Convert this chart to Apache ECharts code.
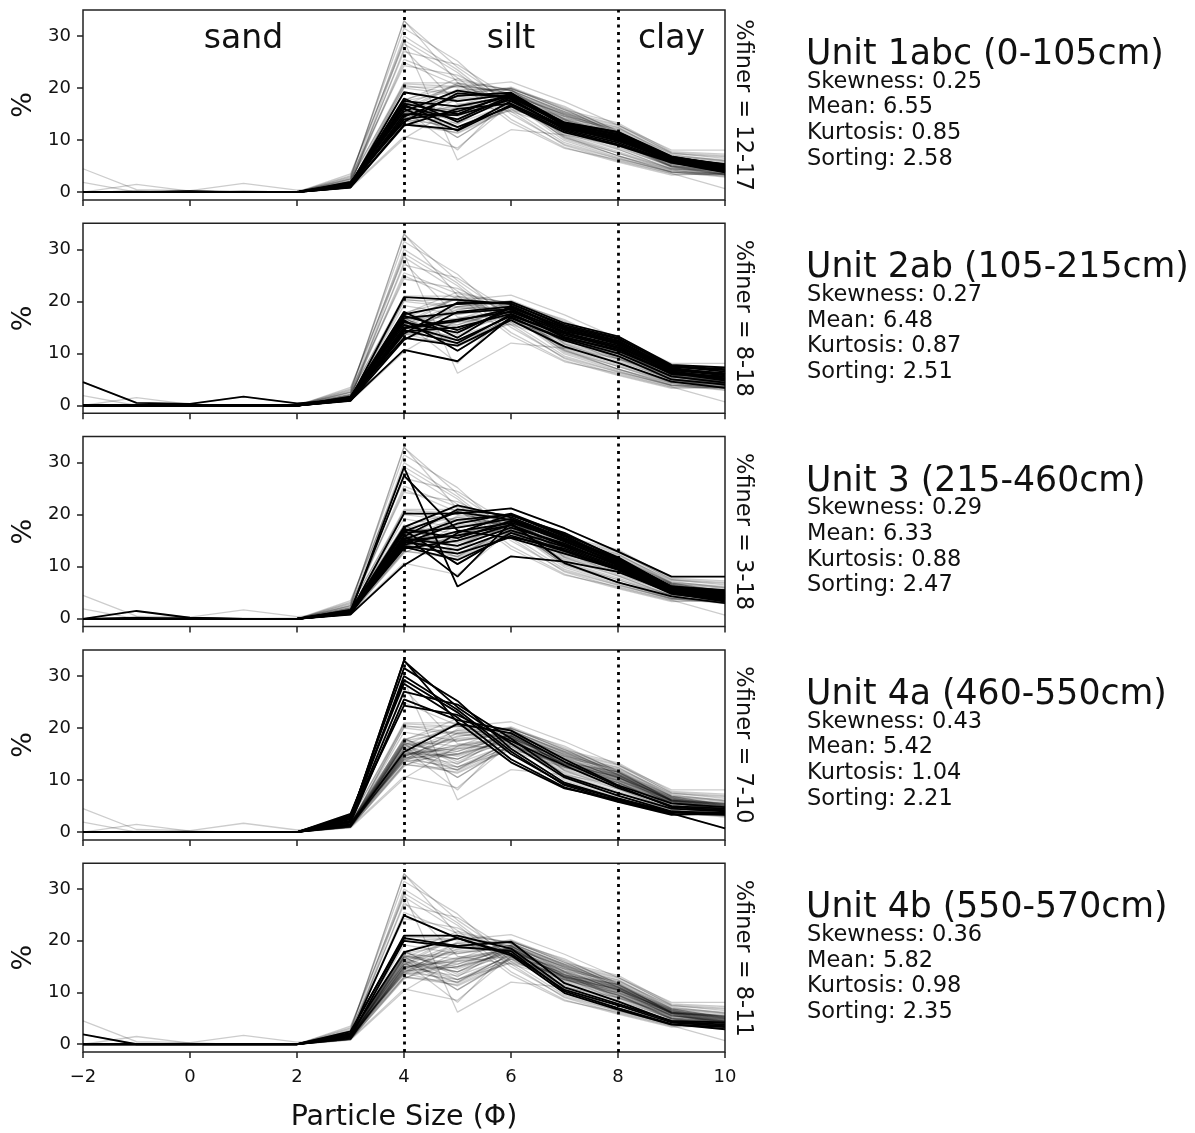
<!DOCTYPE html>
<html>
<head>
<meta charset="utf-8">
<script src="https://cdn.jsdelivr.net/npm/echarts@6/dist/echarts.min.js"></script>
<style>
  html, body { margin: 0; padding: 0; background: #fff; }
  #main { width: 1195px; height: 1133px; }
</style>
</head>
<body>
<div id="main"></div>
<script>
var phi = [-2, -1, 0, 1, 2, 3, 4, 5, 6, 7, 8, 9, 10];

// percent retained per phi class, one row per sample
var unit1 = [
  [0, 0, 0, 0, 0, 1.2, 16.5, 14.0, 18.5, 13.0, 10.5, 6.3, 4.5],
  [0, 0, 0.1, 0, 0, 1.5, 19.2, 17.5, 18.8, 12.8, 10.2, 6.0, 4.2],
  [0, 0, 0, 0.1, 0, 1.0, 13.0, 12.0, 17.5, 12.5, 10.8, 6.5, 5.0],
  [0, 0, 0, 0, 0, 1.8, 15.5, 19.5, 18.0, 12.0, 9.5, 5.9, 4.0],
  [0, 0, 0.2, 0, 0, 1.3, 17.0, 15.0, 19.0, 13.3, 11.5, 6.8, 5.3],
  [0, 0, 0, 0, 0, 0.9, 12.8, 16.0, 17.0, 12.2, 10.0, 6.1, 4.4],
  [0, 0, 0, 0, 0, 1.6, 18.0, 13.5, 18.2, 13.0, 11.0, 6.6, 4.8],
  [0, 0, 0, 0, 0.1, 1.1, 14.5, 18.5, 19.1, 12.6, 9.8, 6.2, 4.3],
  [0, 0.1, 0, 0, 0, 1.4, 16.0, 11.8, 16.8, 11.8, 9.2, 5.8, 3.9],
  [0, 0, 0, 0, 0, 1.7, 17.5, 16.5, 18.5, 13.4, 11.6, 6.9, 5.1],
  [0, 0, 0, 0, 0, 1.2, 15.0, 14.8, 17.8, 12.4, 10.4, 6.4, 4.6],
  [0, 0, 0, 0, 0, 2.0, 13.5, 19.0, 18.3, 12.9, 10.6, 6.0, 4.1],
  [0, 0, 0, 0, 0, 1.0, 16.8, 12.5, 16.5, 11.5, 9.0, 5.7, 3.8],
  [0, 0, 0, 0, 0, 1.5, 14.0, 15.5, 18.6, 13.1, 11.2, 6.7, 5.4]
];
var unit2 = [
  [4.5, 0.5, 0.3, 1.7, 0.4, 1.2, 14.5, 12.0, 17.5, 13.5, 11.0, 6.0, 5.5],
  [0, 0, 0, 0, 0, 1.3, 20.8, 20.3, 19.5, 15.5, 13.0, 7.5, 6.5],
  [0, 0, 0, 0, 0, 1.0, 10.7, 8.5, 17.0, 12.5, 9.5, 5.0, 4.0],
  [0, 0, 0, 0, 0, 1.5, 16.0, 14.0, 18.8, 15.0, 12.5, 7.2, 6.0],
  [0, 0, 0.1, 0, 0, 1.2, 17.5, 19.5, 19.9, 15.8, 13.3, 7.8, 7.3],
  [0, 0, 0, 0, 0, 1.4, 13.0, 11.5, 16.4, 11.3, 8.2, 4.6, 3.4],
  [0, 0, 0, 0, 0.1, 1.1, 15.0, 16.5, 18.0, 14.0, 11.5, 6.5, 5.0],
  [0, 0, 0, 0, 0, 1.6, 18.0, 13.0, 19.2, 14.8, 12.0, 7.0, 6.2],
  [0, 0, 0, 0, 0, 0.9, 12.6, 18.0, 19.0, 14.5, 11.8, 6.8, 5.8],
  [0, 0.1, 0, 0, 0, 1.3, 14.2, 15.0, 17.6, 13.2, 10.5, 6.2, 4.8],
  [0, 0, 0, 0, 0, 1.2, 16.8, 17.8, 18.5, 14.2, 12.2, 7.4, 6.8],
  [0, 0, 0, 0, 0, 1.5, 15.5, 12.5, 17.2, 13.8, 11.2, 6.6, 5.2],
  [0, 0, 0, 0, 0, 1.0, 13.8, 19.8, 19.6, 15.2, 12.8, 7.6, 7.0],
  [0, 0, 0, 0, 0, 1.7, 17.2, 14.5, 18.2, 14.6, 12.4, 6.9, 6.0],
  [0, 0, 0, 0, 0, 1.1, 14.8, 16.2, 18.6, 13.0, 10.8, 6.3, 5.6],
  [0, 0, 0, 0, 0, 1.4, 16.4, 10.5, 16.8, 12.8, 10.0, 5.6, 4.4]
];
var unit3 = [
  [0, 1.5, 0.2, 0, 0, 1.0, 15.0, 16.0, 18.0, 14.0, 10.5, 5.5, 4.5],
  [0, 0, 0, 0, 0, 1.2, 29.1, 6.2, 12.0, 11.0, 9.0, 5.0, 3.5],
  [0, 0, 0, 0, 0, 1.5, 27.5, 17.0, 15.5, 12.5, 9.5, 5.2, 4.0],
  [0, 0, 0, 0, 0, 1.3, 20.2, 20.2, 21.2, 17.4, 12.9, 8.1, 8.1],
  [0, 0, 0, 0, 0, 0.8, 10.3, 16.5, 20.0, 16.0, 11.0, 6.0, 5.0],
  [0, 0, 0, 0, 0, 1.1, 16.0, 8.1, 18.5, 15.0, 10.8, 5.8, 4.6],
  [0, 0, 0, 0, 0, 1.4, 17.6, 21.8, 19.5, 15.5, 11.5, 6.2, 5.5],
  [0, 0, 0, 0, 0, 1.0, 14.5, 18.3, 20.2, 16.2, 11.8, 6.1, 5.2],
  [0, 0, 0.1, 0, 0, 1.6, 13.8, 11.3, 16.0, 13.0, 9.4, 4.8, 3.6],
  [0, 0, 0, 0, 0, 1.2, 15.5, 14.0, 17.5, 14.5, 10.2, 5.4, 4.2],
  [0, 0, 0, 0, 0, 0.9, 16.8, 20.5, 19.0, 15.2, 11.2, 6.0, 5.3],
  [0, 0, 0, 0, 0, 1.3, 14.0, 12.5, 15.7, 13.5, 9.8, 5.0, 3.8],
  [0, 0, 0, 0, 0, 1.5, 17.2, 15.5, 18.8, 14.8, 10.6, 5.6, 4.4],
  [0, 0, 0, 0, 0, 1.1, 15.2, 19.0, 20.0, 15.8, 11.4, 6.2, 5.0],
  [0, 0, 0, 0, 0, 1.0, 14.8, 13.2, 17.0, 13.8, 10.0, 5.2, 4.0],
  [0, 0.2, 0, 0, 0, 1.7, 16.5, 17.5, 19.2, 15.4, 11.0, 5.9, 4.8],
  [0, 0, 0, 0, 0, 1.2, 13.5, 15.0, 18.0, 14.2, 10.4, 5.5, 4.3],
  [0, 0, 0, 0, 0, 1.4, 17.0, 10.5, 16.5, 13.2, 9.6, 4.9, 3.3],
  [0, 0, 0, 0, 0, 1.0, 15.8, 21.0, 19.8, 16.5, 11.6, 6.1, 5.4],
  [0, 0, 0, 0, 0, 1.3, 14.2, 16.8, 18.4, 10.7, 7.0, 4.3, 3.0]
];
var unit4a = [
  [0, 0, 0, 0, 0, 2.5, 32.9, 24.0, 17.0, 10.5, 7.0, 4.0, 3.5],
  [0, 0, 0, 0, 0, 3.0, 31.5, 25.2, 16.0, 9.5, 6.5, 3.8, 3.4],
  [0, 0, 0, 0, 0, 2.0, 30.0, 23.5, 15.5, 9.0, 6.0, 3.5, 3.3],
  [0, 0, 0, 0, 0, 3.5, 28.5, 22.0, 14.0, 8.6, 5.8, 3.3, 3.6],
  [0, 0, 0, 0, 0, 2.2, 27.0, 24.5, 18.0, 10.8, 7.5, 4.5, 4.0],
  [0, 0, 0, 0, 0, 1.8, 25.5, 21.5, 19.5, 14.0, 9.0, 5.5, 4.8],
  [0, 0, 0, 0, 0, 2.8, 24.3, 22.5, 17.5, 12.8, 8.5, 5.0, 4.5],
  [0, 0, 0, 0, 0, 1.5, 15.4, 20.8, 19.0, 13.5, 8.8, 4.8, 4.2],
  [0, 0, 0, 0, 0, 2.6, 33.0, 21.1, 13.4, 8.4, 6.2, 3.6, 0.7],
  [0, 0, 0, 0, 0, 3.2, 29.2, 23.0, 15.0, 9.2, 6.4, 3.9, 3.7]
];
var unit4b = [
  [1.9, 0, 0, 0, 0, 1.8, 24.9, 20.5, 17.5, 10.5, 7.5, 4.2, 3.5],
  [0, 0, 0, 0, 0, 2.2, 21.0, 21.0, 18.5, 11.0, 7.8, 4.5, 4.2],
  [0, 0, 0, 0, 0, 2.5, 20.5, 19.0, 19.8, 11.8, 8.3, 4.4, 3.8],
  [0, 0, 0, 0, 0, 1.5, 20.0, 18.8, 18.0, 10.2, 7.0, 3.9, 2.9],
  [0, 0, 0, 0, 0, 2.0, 17.8, 20.5, 17.2, 9.9, 6.7, 3.8, 3.3]
];

var unitNames = ['Unit 1abc (0-105cm)', 'Unit 2ab (105-215cm)', 'Unit 3 (215-460cm)', 'Unit 4a (460-550cm)', 'Unit 4b (550-570cm)'];
var finerLabels = ['%finer = 12-17', '%finer = 8-18', '%finer = 3-18', '%finer = 7-10', '%finer = 8-11'];
var skewness = [0.25, 0.27, 0.29, 0.43, 0.36];
var mean = [6.55, 6.48, 6.33, 5.42, 5.82];
var kurtosis = [0.85, 0.87, 0.88, 1.04, 0.98];
var sorting = [2.58, 2.51, 2.47, 2.21, 2.35];
var yTicks = [0, 10, 20, 30];
var classNames = [[1, 'sand'], [6, 'silt'], [9, 'clay']];

var units = [unit1, unit2, unit3, unit4a, unit4b];
var allSamples = [].concat(unit1, unit2, unit3, unit4a, unit4b);

var FONT = 'DejaVu Sans';
var top0 = 10, step = 213.3, ph = 190;

var chart = echarts.init(document.getElementById('main'));

function toLine(s) {
  return phi.map(function (x, k) { return [x, s[k]]; });
}

var grids = [], xAxes = [], yAxes = [], series = [], graphics = [];

for (var i = 0; i < 5; i++) {
  var last = i === 4;
  grids.push({
    left: 83, width: 642, top: top0 + step * i, height: ph,
    show: true, borderColor: '#222', borderWidth: 1.5, backgroundColor: 'transparent'
  });
  xAxes.push({
    gridIndex: i, type: 'value', min: -2, max: 10, interval: 2,
    axisLine: { show: false, onZero: false },
    axisTick: { show: true, length: 6, lineStyle: { color: '#222', width: 1.5 } },
    axisLabel: {
      show: last, fontSize: 18, color: '#111', fontFamily: FONT, margin: 16,
      formatter: function (v) { return String(v).replace('-', '\u2212'); }
    },
    splitLine: { show: false },
    name: last ? 'Particle Size (\u03A6)' : '',
    nameLocation: 'middle', nameGap: 51,
    nameTextStyle: { fontSize: 28.5, color: '#111', fontFamily: FONT }
  });
  yAxes.push({
    gridIndex: i, type: 'value', min: -1.5, max: 35,
    axisLine: { show: false, onZero: false },
    axisTick: { show: true, length: 6, customValues: yTicks, lineStyle: { color: '#222', width: 1.5 } },
    axisLabel: { customValues: yTicks, fontSize: 18, color: '#111', fontFamily: FONT, margin: 12 },
    splitLine: { show: false },
    name: '%', nameLocation: 'middle', nameGap: 44, nameRotate: 90,
    nameTextStyle: { fontSize: 27, color: '#111', fontFamily: FONT }
  });

  allSamples.forEach(function (s) {
    series.push({
      type: 'line', xAxisIndex: i, yAxisIndex: i, data: toLine(s),
      symbol: 'none', silent: true, z: 2,
      lineStyle: { color: 'rgba(0,0,0,0.2)', width: 1.3 }
    });
  });
  units[i].forEach(function (s, j) {
    var ser = {
      type: 'line', xAxisIndex: i, yAxisIndex: i, data: toLine(s),
      symbol: 'none', silent: true, z: 3,
      lineStyle: { color: '#000', width: 1.8 }
    };
    if (j === 0) {
      ser.markLine = {
        symbol: 'none', silent: true, z: 5, label: { show: false },
        lineStyle: { type: [3, 4.5], color: '#000', width: 2.8 },
        data: [{ xAxis: 4 }, { xAxis: 8 }]
      };
    }
    series.push(ser);
  });

  var cy = top0 + step * i + ph / 2;
  graphics.push({
    type: 'text', x: 743, y: cy, rotation: -Math.PI / 2,
    style: { text: finerLabels[i], fontSize: 22.5, fontFamily: FONT, fill: '#111', align: 'center', verticalAlign: 'middle' }
  });
  var ty = top0 + step * i;
  graphics.push({
    type: 'text', x: 806, y: ty + 45,
    style: { text: unitNames[i], fontSize: 34.7, fontFamily: FONT, fill: '#111', align: 'left', verticalAlign: 'middle' }
  });
  graphics.push({
    type: 'text', x: 807, y: ty + 59,
    style: {
      text: 'Skewness: ' + skewness[i].toFixed(2) + '\nMean: ' + mean[i].toFixed(2) +
        '\nKurtosis: ' + kurtosis[i].toFixed(2) + '\nSorting: ' + sorting[i].toFixed(2),
      fontSize: 22.5, lineHeight: 25.7, fontFamily: FONT, fill: '#111', align: 'left', verticalAlign: 'top'
    }
  });
}

series.push({
  type: 'scatter', xAxisIndex: 0, yAxisIndex: 0, symbolSize: 0, silent: true, z: 6,
  itemStyle: { opacity: 1 },
  data: classNames.map(function (c) { return [c[0], 29.4, c[1]]; }),
  label: {
    show: true, position: 'inside', fontSize: 33, color: '#111', fontFamily: FONT,
    formatter: function (p) { return p.data[2]; }
  }
});

chart.setOption({
  animation: false,
  backgroundColor: '#fff',
  grid: grids,
  xAxis: xAxes,
  yAxis: yAxes,
  series: series,
  graphic: graphics
});
</script>
</body>
</html>
